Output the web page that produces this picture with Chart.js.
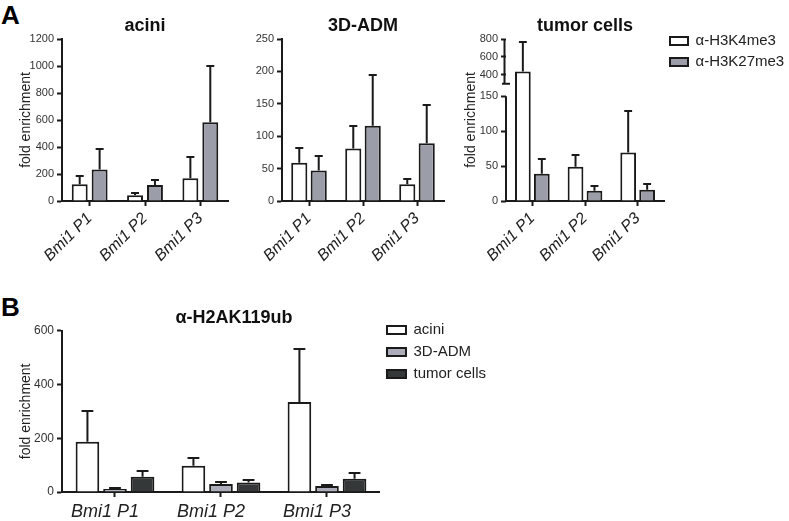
<!DOCTYPE html>
<html>
<head>
<meta charset="utf-8">
<script src="https://cdn.jsdelivr.net/npm/chart.js@4.4.1/dist/chart.umd.min.js"></script>
<style>
body { margin: 0; background: #fff; }
#fig { position: relative; width: 789px; height: 521px; overflow: hidden; font-family: 'Liberation Sans', Arial, sans-serif; }
#fig canvas { position: absolute; }
.letter { position: absolute; font-weight: bold; font-size: 26px; line-height: 1; color: #000; }
</style>
</head>
<body>
<div id="fig">
  <div class="letter" style="left:1px;top:2px">A</div>
  <div class="letter" style="left:1px;top:294px">B</div>
  <canvas id="acini" width="240" height="290" style="left:0;top:0"></canvas>
  <canvas id="adm" width="215" height="290" style="left:240px;top:0"></canvas>
  <canvas id="tumor" width="480" height="290" style="left:304px;top:0"></canvas>
  <canvas id="h2a" width="524" height="231" style="left:-28px;top:290px"></canvas>
</div>
<script>
const categories = ['Bmi1 P1', 'Bmi1 P2', 'Bmi1 P3'];
const markLabels = ['α-H3K4me3', 'α-H3K27me3'];
const cellLabels = ['acini', '3D-ADM', 'tumor cells'];

// panel A, mean and top of error bar
const aciniK4 = [124, 42, 168];
const aciniK4Err = [186, 59, 327];
const aciniK27 = [233, 119, 584];
const aciniK27Err = [386, 156, 1000];

const admK4 = [59, 81, 26];
const admK4Err = [82, 116, 34];
const admK27 = [47, 116, 89];
const admK27Err = [69, 194, 148];

const tumorK4 = [437, 49, 69.5];
const tumorK4Err = [763, 66.5, 129];
const tumorK27 = [39, 14.5, 16];
const tumorK27Err = [60, 21, 25];

// panel B
const h2aAcini = [187, 98, 335];
const h2aAciniErr = [302, 125, 531];
const h2aAdm = [11, 30, 22];
const h2aAdmErr = [16, 38, 27];
const h2aTumor = [57, 35, 49.5];
const h2aTumorErr = [77, 45, 70.5];

const aciniTicks = [0, 200, 400, 600, 800, 1000, 1200];
const admTicks = [0, 50, 100, 150, 200, 250];
const tumorTicks = [0, 50, 100, 150, 400, 600, 800];
const tumorBreak = [150, 300];
const h2aTicks = [0, 200, 400, 600];

const edge = '#1a1a1a';
const white = '#ffffff';
const grey = '#9b9ea8';
const lightGrey = '#abaeba';
const dark = '#343838';

Chart.defaults.font.family = "'Liberation Sans', Arial, sans-serif";

// y axis with a gap between 150 and 300
class BrokenScale extends Chart.LinearScale {
    static id = 'broken';
    static defaults = {};
    toDecimal(v) {
        const lo = tumorBreak[0], hi = tumorBreak[1];
        if (v <= lo) return v / lo * 0.647;
        if (v >= hi) return 0.724 + (v - hi) / (this.max - hi) * 0.276;
        return 0.647 + (v - lo) / (hi - lo) * 0.077;
    }
    getPixelForValue(v) {
        return this.getPixelForDecimal(this.toDecimal(v));
    }
    getValueForPixel(p) {
        const d = 1 - (p - this.top) / (this.bottom - this.top);
        const lo = tumorBreak[0], hi = tumorBreak[1];
        if (d <= 0.647) return d / 0.647 * lo;
        if (d >= 0.724) return hi + (d - 0.724) / 0.276 * (this.max - hi);
        return lo + (d - 0.647) / 0.077 * (hi - lo);
    }
}
Chart.register(BrokenScale);

const errorBars = {
    id: 'errorBars',
    afterDatasetsDraw(chart) {
        const ctx = chart.ctx;
        ctx.save();
        ctx.strokeStyle = edge;
        ctx.lineWidth = 2;
        chart.data.datasets.forEach(function(ds, i) {
            const meta = chart.getDatasetMeta(i);
            const scale = chart.scales[meta.yAxisID];
            meta.data.forEach(function(bar, j) {
                const top = Math.round(scale.getPixelForValue(ds.errors[j]));
                const cap = bar.width / 4;
                ctx.beginPath();
                ctx.moveTo(bar.x, bar.y);
                ctx.lineTo(bar.x, top);
                ctx.moveTo(bar.x - cap, top);
                ctx.lineTo(bar.x + cap, top);
                ctx.stroke();
            });
        });
        ctx.restore();
    }
};

const brokenAxis = {
    id: 'brokenAxis',
    afterDraw(chart) {
        const s = chart.scales.y;
        const ctx = chart.ctx;
        const x = chart.chartArea.left;
        const lo = s.getPixelForValue(tumorBreak[0]);
        const hi = s.getPixelForValue(tumorBreak[1]);
        ctx.save();
        ctx.strokeStyle = edge;
        ctx.lineWidth = 2;
        ctx.beginPath();
        ctx.moveTo(x, s.getPixelForValue(0) + 1);
        ctx.lineTo(x, lo);
        ctx.moveTo(x - 1.5, hi);
        ctx.lineTo(x - 1.5, s.getPixelForValue(s.max));
        ctx.moveTo(x - 4, hi);
        ctx.lineTo(x + 4, hi);
        ctx.stroke();
        ctx.restore();
    }
};

function barSet(label, values, errors, color, cp, bp) {
    return {
        label: label,
        data: values,
        errors: errors,
        backgroundColor: color,
        borderColor: edge,
        borderWidth: 2,
        borderSkipped: 'start',
        categoryPercentage: cp,
        barPercentage: bp,
    };
}

function yAxis(ticks, width, title, titlePad, fontSize) {
    return {
        type: 'linear',
        min: ticks[0],
        max: ticks[ticks.length - 1],
        afterBuildTicks: function(s) { s.ticks = ticks.map(function(v) { return {value: v}; }); },
        afterFit: function(s) { s.width = width; },
        ticks: {
            color: '#333',
            font: {size: fontSize},
            padding: 3,
            autoSkip: false,
            callback: function(v) { return String(v); },
        },
        grid: {drawOnChartArea: false, tickLength: 5, tickWidth: 2, tickColor: edge},
        border: {color: edge, width: 2},
        title: {
            display: title !== '',
            text: title,
            color: '#222',
            font: {size: 14},
            padding: {top: titlePad, bottom: 0},
        },
    };
}

function xAxis(height, rotate, fontSize, pad, shift) {
    return {
        type: 'category',
        afterFit: function(s) { s.height = height; },
        ticks: {
            color: '#222',
            font: {size: fontSize, style: 'italic'},
            minRotation: rotate,
            maxRotation: rotate,
            autoSkip: false,
            padding: pad,
            labelOffset: shift,
        },
        grid: {offset: false, drawOnChartArea: false, tickLength: 5, tickWidth: 2, tickColor: edge},
        border: {color: edge, width: 2},
    };
}

function titleOpt(text, fullSize, top, bottom) {
    return {
        display: true,
        text: text,
        fullSize: fullSize,
        color: '#111',
        font: {size: 18, weight: 'bold'},
        padding: {top: top, bottom: bottom},
    };
}

function legendOpt(show, shift, box, boxH, gap) {
    return {
        display: show,
        position: 'right',
        align: 'start',
        title: {display: true, text: '', font: {size: 10}, padding: {top: shift, bottom: 0}},
        labels: {color: '#222', font: {size: 15}, boxWidth: box, boxHeight: boxH, padding: gap},
    };
}

const base = {
    animation: false,
    responsive: false,
    devicePixelRatio: 1,
    events: [],
};

new Chart(document.getElementById('acini'), {
    type: 'bar',
    data: {
        labels: categories,
        datasets: [
            barSet(markLabels[0], aciniK4, aciniK4Err, white, 0.72, 0.8),
            barSet(markLabels[1], aciniK27, aciniK27Err, grey, 0.72, 0.8),
        ]
    },
    options: Object.assign({}, base, {
        layout: {padding: {left: 0, right: 12, top: 0, bottom: 0}},
        scales: {
            x: xAxis(89, 45, 16, 3, 0),
            y: yAxis(aciniTicks, 62, 'fold enrichment', 18, 11),
        },
        plugins: {
            title: titleOpt(cellLabels[0], false, 15, 2.4),
            legend: legendOpt(false, 0, 18, 8, 6),
            tooltip: {enabled: false},
        },
    }),
    plugins: [errorBars],
});

new Chart(document.getElementById('adm'), {
    type: 'bar',
    data: {
        labels: categories,
        datasets: [
            barSet(markLabels[0], admK4, admK4Err, white, 0.72, 0.83),
            barSet(markLabels[1], admK27, admK27Err, grey, 0.72, 0.83),
        ]
    },
    options: Object.assign({}, base, {
        layout: {padding: {left: 0, right: 11, top: 0, bottom: 0}},
        scales: {
            x: xAxis(89, 45, 16, 3, 0),
            y: yAxis(admTicks, 42, '', 0, 11),
        },
        plugins: {
            title: titleOpt(cellLabels[1], false, 15, 2.4),
            legend: legendOpt(false, 0, 18, 8, 6),
            tooltip: {enabled: false},
        },
    }),
    plugins: [errorBars],
});

// canvas starts left of the panel so the right legend gets a fixed quarter of its width
const tumorY = yAxis(tumorTicks, 202, 'fold enrichment', 159, 11);
tumorY.type = 'broken';
tumorY.border = {display: false};

new Chart(document.getElementById('tumor'), {
    type: 'bar',
    data: {
        labels: categories,
        datasets: [
            barSet(markLabels[0], tumorK4, tumorK4Err, white, 0.72, 0.83),
            barSet(markLabels[1], tumorK27, tumorK27Err, grey, 0.72, 0.83),
        ]
    },
    options: Object.assign({}, base, {
        layout: {padding: 0},
        scales: {
            x: xAxis(89, 45, 16, 3, 0),
            y: tumorY,
        },
        plugins: {
            title: titleOpt(cellLabels[2], false, 15, 2.4),
            legend: legendOpt(true, 15.5, 18, 8, 6),
            tooltip: {enabled: false},
        },
    }),
    plugins: [errorBars, brokenAxis],
});

new Chart(document.getElementById('h2a'), {
    type: 'bar',
    data: {
        labels: categories,
        datasets: [
            barSet(cellLabels[0], h2aAcini, h2aAciniErr, white, 0.78, 0.857),
            barSet(cellLabels[1], h2aAdm, h2aAdmErr, lightGrey, 0.78, 0.857),
            barSet(cellLabels[2], h2aTumor, h2aTumorErr, dark, 0.78, 0.857),
        ]
    },
    options: Object.assign({}, base, {
        layout: {padding: 0},
        scales: {
            x: xAxis(29, 0, 18, 4, -10),
            y: yAxis(h2aTicks, 90, 'fold enrichment', 45.6, 12),
        },
        plugins: {
            title: titleOpt('α-H2AK119ub', true, 17.5, 1.6),
            legend: legendOpt(true, 13.5, 19, 8, 7),
            tooltip: {enabled: false},
        },
    }),
    plugins: [errorBars],
});
</script>
</body>
</html>
